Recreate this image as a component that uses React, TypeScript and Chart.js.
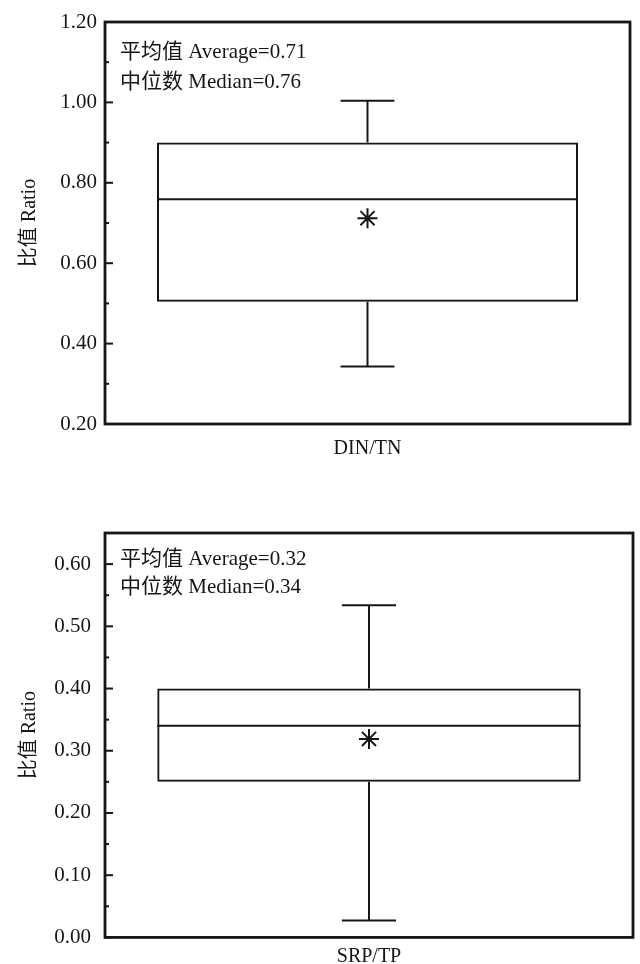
import React, { useEffect, useRef } from 'react';
import { Chart, registerables } from 'chart.js';
Chart.register(...registerables);

// ---- Data: chart A (DIN/TN) ----
const categoriesA = ['DIN/TN'];
const q1A = [0.504];
const q3A = [0.9];
const medianA = [0.759];
const minA = [0.343];
const maxA = [1.004];
const meanA = [0.712];
const notesA = ['平均值 Average=0.71', '中位数 Median=0.76'];

// ---- Data: chart B (SRP/TP) ----
const categoriesB = ['SRP/TP'];
const q1B = [0.25];
const q3B = [0.4];
const medianB = [0.34];
const minB = [0.027];
const maxB = [0.534];
const meanB = [0.319];
const notesB = ['平均值 Average=0.32', '中位数 Median=0.34'];

const FONT = "'Liberation Serif', 'Noto Sans CJK SC', serif";
const INK = '#161616';

type Cfg = {
  labels: string[]; q1: number[]; q3: number[]; median: number[]; min: number[]; max: number[]; mean: number[];
  notes: string[]; yMin: number; yMax: number; step: number; labelStep: number;
  padTop: number; padRight: number; xHeight: number; xPad: number; yPad: number; noteY: number[];
  width: number; height: number;
};

function BoxChart({ cfg, top }: { cfg: Cfg; top: number }) {
  const ref = useRef<HTMLCanvasElement | null>(null);
  useEffect(() => {
    if (!ref.current) return;
    const boxPlugin = {
      id: 'boxExtras',
      afterDatasetsDraw(chart: any) {
        const ctx = chart.ctx;
        const y = chart.scales.y;
        const meta = chart.getDatasetMeta(0);
        ctx.save();
        ctx.strokeStyle = INK;
        ctx.lineCap = 'butt';
        meta.data.forEach((bar: any, i: number) => {
          const x = bar.x;
          const w = bar.width;
          const cap = w * 0.128;
          ctx.lineWidth = 2;
          ctx.beginPath();
          ctx.moveTo(x - w / 2, y.getPixelForValue(cfg.median[i]));
          ctx.lineTo(x + w / 2, y.getPixelForValue(cfg.median[i]));
          ctx.stroke();
          ctx.beginPath();
          ctx.moveTo(x, y.getPixelForValue(cfg.q3[i]));
          ctx.lineTo(x, y.getPixelForValue(cfg.max[i]));
          ctx.moveTo(x, y.getPixelForValue(cfg.q1[i]));
          ctx.lineTo(x, y.getPixelForValue(cfg.min[i]));
          ctx.moveTo(x - cap / 2, y.getPixelForValue(cfg.max[i]));
          ctx.lineTo(x + cap / 2, y.getPixelForValue(cfg.max[i]));
          ctx.moveTo(x - cap / 2, y.getPixelForValue(cfg.min[i]));
          ctx.lineTo(x + cap / 2, y.getPixelForValue(cfg.min[i]));
          ctx.stroke();
        });
        ctx.restore();
      },
      afterDraw(chart: any) {
        const ctx = chart.ctx;
        const a = chart.chartArea;
        const y = chart.scales.y;
        ctx.save();
        ctx.strokeStyle = INK;
        ctx.lineWidth = 2.8;
        ctx.strokeRect(a.left, a.top, a.right - a.left, a.bottom - a.top);
        ctx.lineWidth = 2;
        y.ticks.forEach((t: any) => {
          const py = y.getPixelForValue(t.value);
          const major = t.label !== '' && t.label != null;
          ctx.beginPath();
          ctx.moveTo(a.left, py);
          ctx.lineTo(a.left + (major ? 8 : 4), py);
          ctx.stroke();
        });
        ctx.fillStyle = INK;
        ctx.font = `21px ${FONT}`;
        ctx.textAlign = 'left';
        ctx.textBaseline = 'middle';
        cfg.notes.forEach((n, i) => ctx.fillText(n, a.left + 15, a.top + cfg.noteY[i]));
        ctx.restore();
      },
    };
    const chart = new Chart(ref.current, {
      type: 'bar',
      data: {
        labels: cfg.labels,
        datasets: [
          {
            type: 'bar',
            data: cfg.q1.map((v, i) => [v, cfg.q3[i]]),
            backgroundColor: 'rgba(255,255,255,0)',
            borderColor: INK,
            borderWidth: 2,
            borderSkipped: false,
            barPercentage: 0.802,
            categoryPercentage: 1,
          } as any,
          {
            type: 'line',
            data: cfg.mean,
            showLine: false,
            pointStyle: 'star',
            pointRadius: 10,
            pointBorderWidth: 2,
            pointBorderColor: INK,
            pointBackgroundColor: INK,
          } as any,
        ],
      },
      options: {
        animation: false,
        responsive: false,
        events: [],
        layout: { autoPadding: false, padding: { left: 0, top: cfg.padTop, right: cfg.padRight, bottom: 0 } },
        plugins: { legend: { display: false }, tooltip: { enabled: false } },
        scales: {
          x: {
            grid: { display: false, drawTicks: false },
            border: { display: false },
            ticks: { color: INK, font: { family: FONT, size: 20 }, padding: cfg.xPad },
            afterFit: (s: any) => { s.height = cfg.xHeight; },
          },
          y: {
            min: cfg.yMin,
            max: cfg.yMax,
            grid: { display: false, drawTicks: false },
            border: { display: false },
            ticks: {
              stepSize: cfg.step,
              color: INK,
              font: { family: FONT, size: 21 },
              padding: cfg.yPad,
              callback: (v: any) => {
                const k = Math.round(Number(v) * 1000);
                const m = Math.round(cfg.labelStep * 1000);
                return k % m === 0 ? Number(v).toFixed(2) : '';
              },
            },
            title: {
              display: true,
              text: '比值 Ratio',
              color: INK,
              font: { family: FONT, size: 20 },
              padding: { top: 18, bottom: 0 },
            },
            afterFit: (s: any) => { s.width = 105; },
          },
        },
      },
      plugins: [boxPlugin],
    } as any);
    return () => chart.destroy();
  }, []);
  return (
    <canvas
      ref={ref}
      width={cfg.width}
      height={cfg.height}
      style={{ position: 'absolute', left: 0, top, width: cfg.width, height: cfg.height, display: 'block' }}
    />
  );
}

const cfgA: Cfg = {
  labels: categoriesA, q1: q1A, q3: q3A, median: medianA, min: minA, max: maxA, mean: meanA, notes: notesA,
  yMin: 0.2, yMax: 1.2, step: 0.1, labelStep: 0.2,
  padTop: 22, padRight: 10, xHeight: 46, xPad: 13, yPad: 8, noteY: [30, 60],
  width: 640, height: 470,
};

const cfgB: Cfg = {
  labels: categoriesB, q1: q1B, q3: q3B, median: medianB, min: minB, max: maxB, mean: meanB, notes: notesB,
  yMin: 0, yMax: 0.65, step: 0.05, labelStep: 0.1,
  padTop: 43, padRight: 7, xHeight: 26, xPad: 7, yPad: 14, noteY: [26, 54],
  width: 640, height: 474,
};

export default function App() {
  return (
    <div style={{ position: 'absolute', left: 0, top: 0, width: 640, height: 964, background: '#fff', overflow: 'hidden' }}>
      <BoxChart cfg={cfgA} top={0} />
      <BoxChart cfg={cfgB} top={490} />
    </div>
  );
}
